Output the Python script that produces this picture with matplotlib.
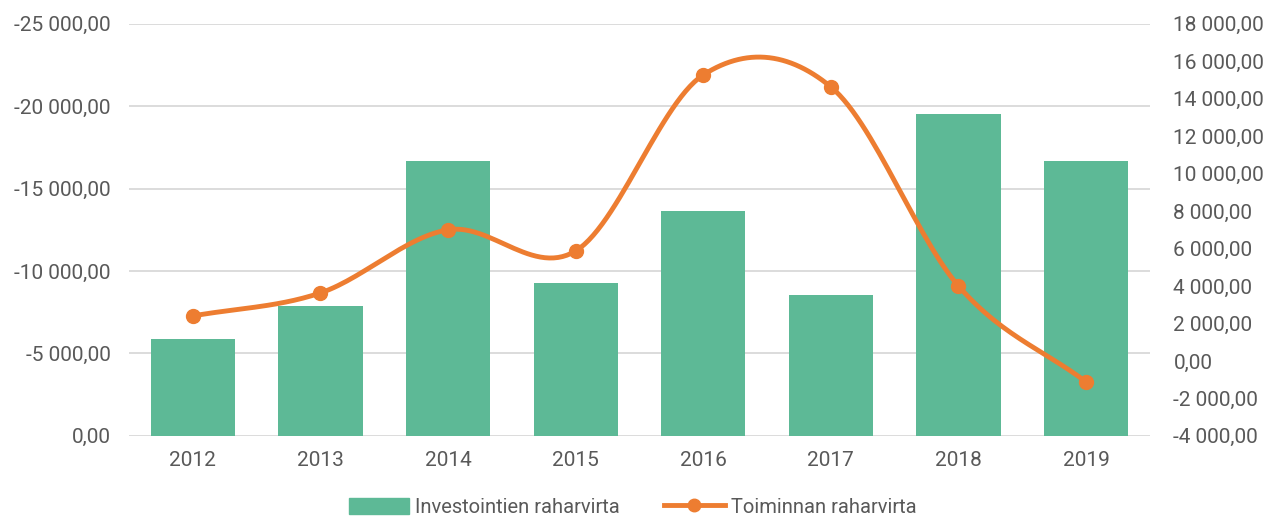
import matplotlib.pyplot as plt
import numpy as np
from matplotlib.ticker import FuncFormatter
from matplotlib.lines import Line2D
from matplotlib.patches import Patch

years = ['2012', '2013', '2014', '2015', '2016', '2017', '2018', '2019']
investointi = [-5900, -7900, -16700, -9250, -13650, -8550, -19550, -16700]
toiminta = [2400, 3630, 7000, 5870, 15270, 14630, 4000, -1120]

green = '#5DB996'
orange = '#ED7D31'
grey = '#595959'

def fmt(v, pos=None):
    s = '{:,.2f}'.format(abs(v)).replace(',', ' ').replace('.', ',')
    return ('-' if v < 0 else '') + s

def smooth(x, y, n=30):
    # catmull-rom like Excel smoothed line
    x = np.asarray(x, float); y = np.asarray(y, float)
    px = np.concatenate([[2 * x[0] - x[1]], x, [2 * x[-1] - x[-2]]])
    py = np.concatenate([[2 * y[0] - y[1]], y, [2 * y[-1] - y[-2]]])
    xs, ys = [], []
    t = np.linspace(0, 1, n)
    for i in range(1, len(px) - 2):
        for arr, out in ((px, xs), (py, ys)):
            p0, p1, p2, p3 = arr[i - 1], arr[i], arr[i + 1], arr[i + 2]
            out.extend(0.5 * ((2 * p1) + (-p0 + p2) * t + (2 * p0 - 5 * p1 + 4 * p2 - p3) * t ** 2
                              + (-p0 + 3 * p1 - 3 * p2 + p3) * t ** 3))
    return xs, ys

plt.rcParams['font.family'] = ['Roboto', 'DejaVu Sans']

fig = plt.figure(figsize=(12.65, 5.17), dpi=100)
ax = fig.add_axes([0.102, 0.157, 0.807, 0.797])
x = np.arange(len(years))
ax.bar(x, investointi, width=0.66, color=green, zorder=2)
ax.set_ylim(0, -25000)
ax.set_yticks(np.arange(0, -25001, -5000))
ax.yaxis.set_major_formatter(FuncFormatter(fmt))
ax.set_xlim(-0.5, len(years) - 0.5)
ax.set_xticks(x)
ax.set_xticklabels(years)
ax.grid(axis='y', color='#d9d9d9', linewidth=1.3, zorder=0)
for s in ax.spines.values():
    s.set_visible(False)
ax.tick_params(length=0, colors=grey, labelsize=15)
ax.tick_params(axis='y', pad=13)
ax.tick_params(axis='x', pad=11)

ax2 = ax.twinx()
sx, sy = smooth(x, toiminta)
ax2.plot(sx, sy, color=orange, linewidth=3.5, zorder=3)
ax2.plot(x, toiminta, 'o', color=orange, markersize=10, zorder=4)
ax2.set_ylim(-4000, 18000)
ax2.set_yticks(np.arange(-4000, 18001, 2000))
ax2.yaxis.set_major_formatter(FuncFormatter(fmt))
for s in ax2.spines.values():
    s.set_visible(False)
ax2.tick_params(length=0, colors=grey, labelsize=15, pad=17)

handles = [Patch(color=green, label='Investointien raharvirta'),
           Line2D([0], [0], color=orange, linewidth=3.5, marker='o', markersize=9,
                  label='Toiminnan raharvirta')]
fig.legend(handles=handles, loc='lower center', bbox_to_anchor=(0.5, -0.035), ncol=2,
           frameon=False, fontsize=14.5, labelcolor=grey, handlelength=3.0, columnspacing=2.2,
           handletextpad=0.3, handleheight=0.9)

fig.savefig('out.png', dpi=100)
